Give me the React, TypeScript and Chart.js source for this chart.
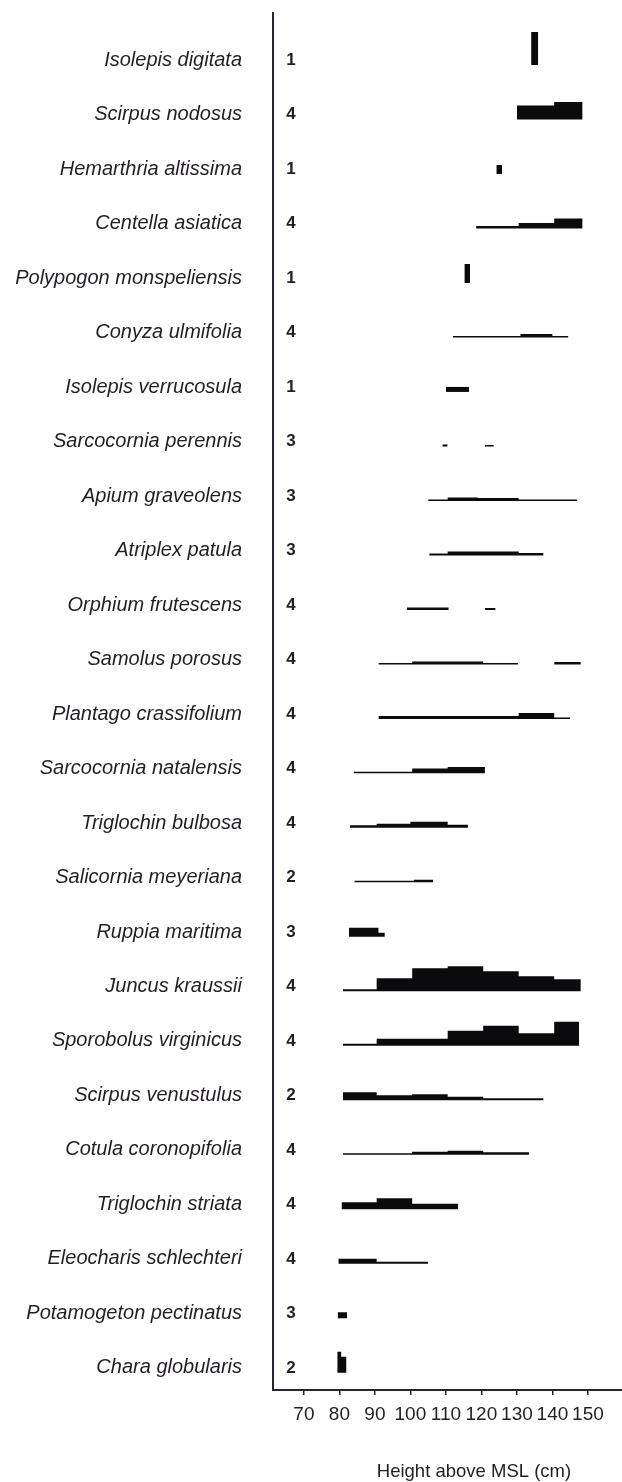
import { useEffect, useRef } from "react";
import { Chart, registerables } from "chart.js";

Chart.register(...registerables);

// Species, top of the shore first
const species = [
  "Isolepis digitata",
  "Scirpus nodosus",
  "Hemarthria altissima",
  "Centella asiatica",
  "Polypogon monspeliensis",
  "Conyza ulmifolia",
  "Isolepis verrucosula",
  "Sarcocornia perennis",
  "Apium graveolens",
  "Atriplex patula",
  "Orphium frutescens",
  "Samolus porosus",
  "Plantago crassifolium",
  "Sarcocornia natalensis",
  "Triglochin bulbosa",
  "Salicornia meyeriana",
  "Ruppia maritima",
  "Juncus kraussii",
  "Sporobolus virginicus",
  "Scirpus venustulus",
  "Cotula coronopifolia",
  "Triglochin striata",
  "Eleocharis schlechteri",
  "Potamogeton pectinatus",
  "Chara globularis",
];

// Number of sites in which each species was recorded
const siteCounts = [1, 4, 1, 4, 1, 4, 1, 3, 3, 3, 4, 4, 4, 4, 4, 2, 3, 4, 4, 2, 4, 4, 4, 3, 2];

// Height labels on the bottom axis (cm above MSL)
const heightTicks = [70, 80, 90, 100, 110, 120, 130, 140, 150];

// Cover profile of each species: [from cm, to cm, cover]
const profiles: [number, number, number][][] = [
  [[134, 136, 33]],
  [[130, 140.5, 14], [140.5, 148.5, 17.5]],
  [[124.2, 125.8, 9]],
  [[118.5, 130.5, 2.5], [130.5, 140.5, 5.5], [140.5, 148.5, 10]],
  [[115.2, 116.8, 19]],
  [[112, 131, 1.5], [131, 140, 3.5], [140, 144.5, 1.5]],
  [[110, 116.5, 5]],
  [[109, 110.5, 2], [121, 123.5, 1.5]],
  [[105, 110.5, 1.5], [110.5, 119, 3.5], [119, 130.5, 3], [130.5, 147, 1.5]],
  [[105.3, 110.5, 2], [110.5, 130.5, 4], [130.5, 137.5, 2.5]],
  [[99, 110.8, 2.5], [121, 124, 2]],
  [[91, 100.5, 1.5], [100.5, 120.5, 3], [120.5, 130.3, 1.5], [140.5, 148, 2.5]],
  [[91, 130.5, 3], [130.5, 140.5, 6], [140.5, 145, 1.5]],
  [[84, 100.5, 1.5], [100.5, 110.5, 5], [110.5, 121, 6.5]],
  [[83, 90.5, 2.5], [90.5, 100, 4], [100, 110.5, 6], [110.5, 116.2, 3]],
  [[84.2, 101, 1.5], [101, 106.4, 2.5]],
  [[82.7, 91, 9], [91, 92.8, 4]],
  [[81, 90.5, 2], [90.5, 100.5, 13], [100.5, 110.5, 23], [110.5, 120.5, 25], [120.5, 130.5, 20], [130.5, 140.5, 15], [140.5, 148, 12]],
  [[81, 90.5, 2], [90.5, 110.5, 7], [110.5, 120.5, 15], [120.5, 130.5, 20], [130.5, 140.5, 12.5], [140.5, 147.5, 24]],
  [[81, 90.5, 8], [90.5, 100.5, 5], [100.5, 110.5, 6], [110.5, 120.5, 3.5], [120.5, 137.5, 2]],
  [[81, 100.5, 1.5], [100.5, 110.5, 3], [110.5, 120.5, 4], [120.5, 133.4, 2.5]],
  [[80.6, 90.5, 7], [90.5, 100.5, 11], [100.5, 113.4, 5.5]],
  [[79.7, 90.5, 5], [90.5, 105, 2]],
  [[79.5, 82.2, 6]],
  [[79.4, 80.5, 21], [80.5, 82, 16]],
];

const INK = "#0b0a0c";
const AXIS = "#2a2430";
const TEXT = "#221e24";
const FONT = "'Liberation Sans', Arial, Helvetica, sans-serif";

// One row is one unit on the y scale; cover units are converted to row fractions
const ROW_PER_COVER = 1 / 54.5;
const BASELINE_SHIFT = 0.09;

function buildDatasets() {
  const sets: any[] = [];
  profiles.forEach((steps, row) => {
    const base = row + BASELINE_SHIFT;
    let run: { x: number; y: number }[] = [];
    let lastEnd: number | null = null;
    const flush = () => {
      if (run.length) {
        sets.push({
          data: run,
          fill: { value: base },
          backgroundColor: INK,
          borderColor: "rgba(0,0,0,0)",
          borderWidth: 0,
          pointRadius: 0,
          pointHoverRadius: 0,
          tension: 0,
        });
      }
      run = [];
    };
    steps.forEach(([from, to, cover]) => {
      if (lastEnd !== null && Math.abs(from - lastEnd) > 1e-6) flush();
      const top = base - cover * ROW_PER_COVER;
      run.push({ x: from, y: top }, { x: to, y: top });
      lastEnd = to;
    });
    flush();
  });
  return sets;
}

// Site counts beside the axis and the axis caption
const annotations = {
  id: "annotations",
  afterDraw(chart: any) {
    const { ctx, scales } = chart;
    const y = scales.y;
    const left = chart.chartArea.left;
    ctx.save();
    ctx.fillStyle = TEXT;
    ctx.textAlign = "center";
    ctx.textBaseline = "middle";
    ctx.font = `bold 17px ${FONT}`;
    siteCounts.forEach((n, i) => {
      ctx.fillText(String(n), left + 18, y.getPixelForValue(i));
    });
    ctx.font = `18.5px ${FONT}`;
    ctx.fillText("Height above MSL (cm)", chart.width * 0.762, chart.height - 10);
    ctx.restore();
  },
};

export default function App() {
  const canvasRef = useRef<HTMLCanvasElement | null>(null);

  useEffect(() => {
    if (!canvasRef.current) return;
    const chart = new Chart(canvasRef.current, {
      type: "line",
      data: { datasets: buildDatasets() },
      options: {
        animation: false,
        responsive: false,
        devicePixelRatio: 1,
        layout: { autoPadding: false, padding: { top: 13, right: 0, bottom: 0, left: 0 } },
        plugins: {
          legend: { display: false },
          tooltip: { enabled: false },
          title: { display: false },
        },
        scales: {
          x: {
            type: "linear",
            position: "bottom",
            min: 61.3,
            max: 159.6,
            afterBuildTicks: (s: any) => {
              s.ticks = heightTicks.map((v) => ({ value: v }));
            },
            afterFit: (s: any) => {
              s.height = 92;
              s.paddingLeft = 0;
              s.paddingRight = 0;
            },
            grid: {
              drawOnChartArea: false,
              drawTicks: true,
              tickLength: 5,
              color: AXIS,
              lineWidth: 1.5,
            },
            border: { display: true, color: AXIS, width: 2 },
            ticks: {
              autoSkip: false,
              maxRotation: 0,
              padding: 8,
              color: TEXT,
              font: { family: FONT, size: 19 },
              callback: (v: any) => String(v),
            },
          },
          y: {
            type: "linear",
            reverse: true,
            min: -0.864,
            max: 24.406,
            afterBuildTicks: (s: any) => {
              s.ticks = species.map((_, i) => ({ value: i }));
            },
            afterFit: (s: any) => {
              s.width = 273;
              s.paddingTop = 0;
              s.paddingBottom = 0;
            },
            grid: { display: false, drawTicks: false },
            border: { display: true, color: AXIS, width: 2 },
            ticks: {
              autoSkip: false,
              padding: 31,
              color: TEXT,
              font: { family: FONT, size: 20, style: "italic" },
              callback: (v: any) => species[v] ?? "",
            },
          },
        },
      },
      plugins: [annotations],
    });
    return () => chart.destroy();
  }, []);

  return (
    <div style={{ position: "absolute", left: 0, top: 0, width: 622, height: 1482, background: "#fff" }}>
      <canvas ref={canvasRef} width={622} height={1482} />
    </div>
  );
}
